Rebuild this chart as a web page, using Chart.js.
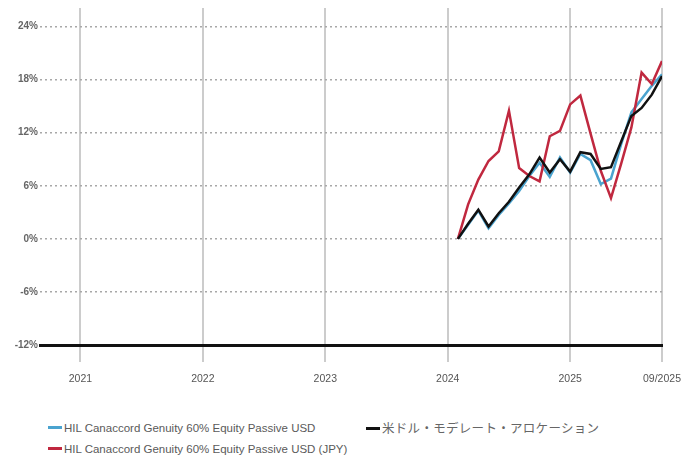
<!DOCTYPE html>
<html>
<head>
<meta charset="utf-8">
<script src="https://cdn.jsdelivr.net/npm/chart.js@4"></script>
<style>
  body { margin: 0; background: #fff; width: 688px; height: 461px; position: relative; overflow: hidden; }
  #wrap { position: absolute; left: 0; top: 0; width: 688px; height: 390px; }
  .leg { position: absolute; font-family: "Liberation Sans Narrow", "Arial Narrow", "Liberation Sans", sans-serif; font-size: 11.5px; color: #5a5a5a; white-space: nowrap; line-height: 14px; }
  .leg i { display: inline-block; width: 14px; height: 3px; vertical-align: middle; margin-right: 2px; position: relative; top: -1px; }
  .jp { font-family: "Noto Sans CJK JP", sans-serif; font-size: 12.5px; letter-spacing: 0.3px; color: #666; }
</style>
</head>
<body>
<div id="wrap"><canvas id="myChart"></canvas></div>
<div class="leg" style="left:48px; top:421px;"><i style="background:#4aa3cf"></i>HIL Canaccord Genuity 60% Equity Passive USD</div>
<div class="leg jp" style="left:366px; top:421px;"><i style="background:#111"></i>米ドル・モデレート・アロケーション</div>
<div class="leg" style="left:48px; top:442px;"><i style="background:#c0283f"></i>HIL Canaccord Genuity 60% Equity Passive USD (JPY)</div>
<script>
// month-end dates of the series
const months = ['2024-01','2024-02','2024-03','2024-04','2024-05','2024-06','2024-07','2024-08','2024-09','2024-10','2024-11','2024-12',
                '2025-01','2025-02','2025-03','2025-04','2025-05','2025-06','2025-07','2025-08','2025-09'];

const usd   = [0, 1.6, 3.2, 1.2, 2.7, 4.0, 5.4, 7.1, 8.6, 7.0, 9.2, 7.5, 9.6, 8.9, 6.2, 6.8, 10.7, 14.3, 15.8, 17.3, 18.6];
const jpy   = [0, 3.9, 6.7, 8.8, 9.9, 14.5, 8.0, 7.1, 6.5, 11.6, 12.2, 15.2, 16.2, 11.9, 7.7, 4.6, 8.5, 12.6, 18.8, 17.5, 20.1];
const model = [0, 1.7, 3.3, 1.4, 2.9, 4.2, 5.8, 7.3, 9.2, 7.5, 9.0, 7.6, 9.8, 9.6, 7.9, 8.1, 11.0, 13.9, 14.8, 16.3, 18.4];

const xTickLabels = ['2021', '2022', '2023', '2024', '2025', '09/2025'];
const xTickDates  = ['2021-00', '2022-00', '2023-00', '2024-00', '2025-00', '2025-09'];
const yTicks = [-12, -6, 0, 6, 12, 18, 24];

// months since start of 2021
function toIdx(s) {
    const p = s.split('-');
    return (parseInt(p[0]) - 2021) * 12 + parseInt(p[1]);
}
const xTickVals = xTickDates.map(toIdx);

function pts(arr) {
    return arr.map((v, i) => ({ x: toIdx(months[i]), y: v }));
}

const ctx = document.getElementById('myChart').getContext('2d');
new Chart(ctx, {
    type: 'line',
    data: {
        datasets: [
            { label: 'HIL Canaccord Genuity 60% Equity Passive USD', data: pts(usd), borderColor: '#4aa3cf', borderWidth: 2.5, pointRadius: 0, order: 2 },
            { label: 'HIL Canaccord Genuity 60% Equity Passive USD (JPY)', data: pts(jpy), borderColor: '#c0283f', borderWidth: 2.5, pointRadius: 0, order: 1 },
            { label: '米ドル・モデレート・アロケーション', data: pts(model), borderColor: '#111', borderWidth: 2.5, pointRadius: 0, order: 0 }
        ]
    },
    options: {
        responsive: true,
        maintainAspectRatio: false,
        animation: false,
        layout: { padding: { top: 5, right: 26, left: 0, bottom: 0 } },
        plugins: { legend: { display: false }, tooltip: { enabled: false } },
        scales: {
            x: {
                type: 'linear',
                min: -3.96,
                max: 57,
                afterBuildTicks: axis => { axis.ticks = xTickVals.map(v => ({ value: v })); },
                afterFit: axis => { axis.height = 45; axis.paddingRight = 0; axis.paddingLeft = 0; },
                ticks: {
                    autoSkip: false, maxRotation: 0, padding: 11,
                    color: '#555', font: { family: 'Liberation Sans', size: 10.5 },
                    callback: (v) => xTickLabels[xTickVals.indexOf(v)]
                },
                grid: { color: '#cccccc', lineWidth: 2, tickLength: 17, drawTicks: true },
                border: { display: true, color: '#111', width: 3 }
            },
            y: {
                min: -12,
                max: 26.1,
                afterBuildTicks: axis => { axis.ticks = yTicks.map(v => ({ value: v })); },
                afterFit: axis => { axis.width = 40; },
                ticks: {
                    padding: 2, color: '#666',
                    font: { family: 'Liberation Sans', size: 10, weight: 'bold' },
                    callback: v => v + '%'
                },
                grid: {
                    drawTicks: false,
                    lineWidth: 1.5,
                    color: c => (c.tick && c.tick.value === -12) ? 'rgba(0,0,0,0)' : '#a8a8a8'
                },
                border: { display: false, dash: [2, 3] }
            }
        }
    }
});
</script>
</body>
</html>
